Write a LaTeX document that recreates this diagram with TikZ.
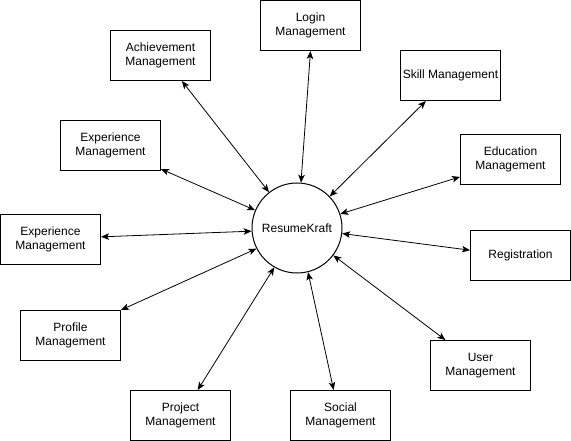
\documentclass[tikz,border=0pt]{standalone}
\usepackage{fontspec}
\setmainfont{Liberation Sans}
\usetikzlibrary{arrows.meta}
\begin{document}
\begin{tikzpicture}[x=1pt,y=-1pt,
  box/.style={draw,line width=1pt,rectangle,minimum width=100pt,minimum height=50pt,inner sep=0pt,align=center,font=\fontsize{12}{14.5}\selectfont},
  hub/.style={draw,line width=1pt,circle,minimum size=90pt,inner sep=0pt,font=\fontsize{12}{14.5}\selectfont},
  link/.style={line width=0.8pt,{Stealth[length=8pt,width=6.5pt,inset=2pt]}-{Stealth[length=8pt,width=6.5pt,inset=2pt]}}]
\useasboundingbox (0,0) rectangle (571,441);
\node[hub] (rk) at (297,228) {ResumeKraft};
\node[box] (login) at (310.5,25.5) {Login\\Management};
\node[box] (ach) at (160.5,55.5) {Achievement\\Management};
\node[box] (skill) at (450.5,75.5) {Skill Management};
\node[box] (exp1) at (110.5,145.5) {Experience\\Management};
\node[box] (edu) at (510.5,159.5) {Education\\Management};
\node[box] (exp2) at (50.5,239.5) {Experience\\Management};
\node[box] (reg) at (520.5,255.5) {Registration};
\node[box] (prof) at (70.5,335.5) {Profile\\Management};
\node[box] (user) at (480.5,365.5) {User\\Management};
\node[box] (proj) at (180.5,415.5) {Project\\Management};
\node[box] (soc) at (340.5,415.5) {Social\\Management};
\draw[link] (login.south) -- (rk.85);
\draw[link] (ach.-50) -- (rk.128);
\draw[link] (skill.-134) -- (rk.44);
\draw[link] (exp1.-25) -- (rk.157);
\draw[link] (edu.199) -- (rk.18);
\draw[link] (exp2.3) -- (rk.184);
\draw[link] (reg.174) -- (rk.-7);
\draw[link] (prof.north east) -- (rk.207);
\draw[link] (user.144) -- (rk.-37);
\draw[link] (proj.56) -- (rk.240);
\draw[link] (soc.105) -- (rk.-76);
\end{tikzpicture}
\end{document}
